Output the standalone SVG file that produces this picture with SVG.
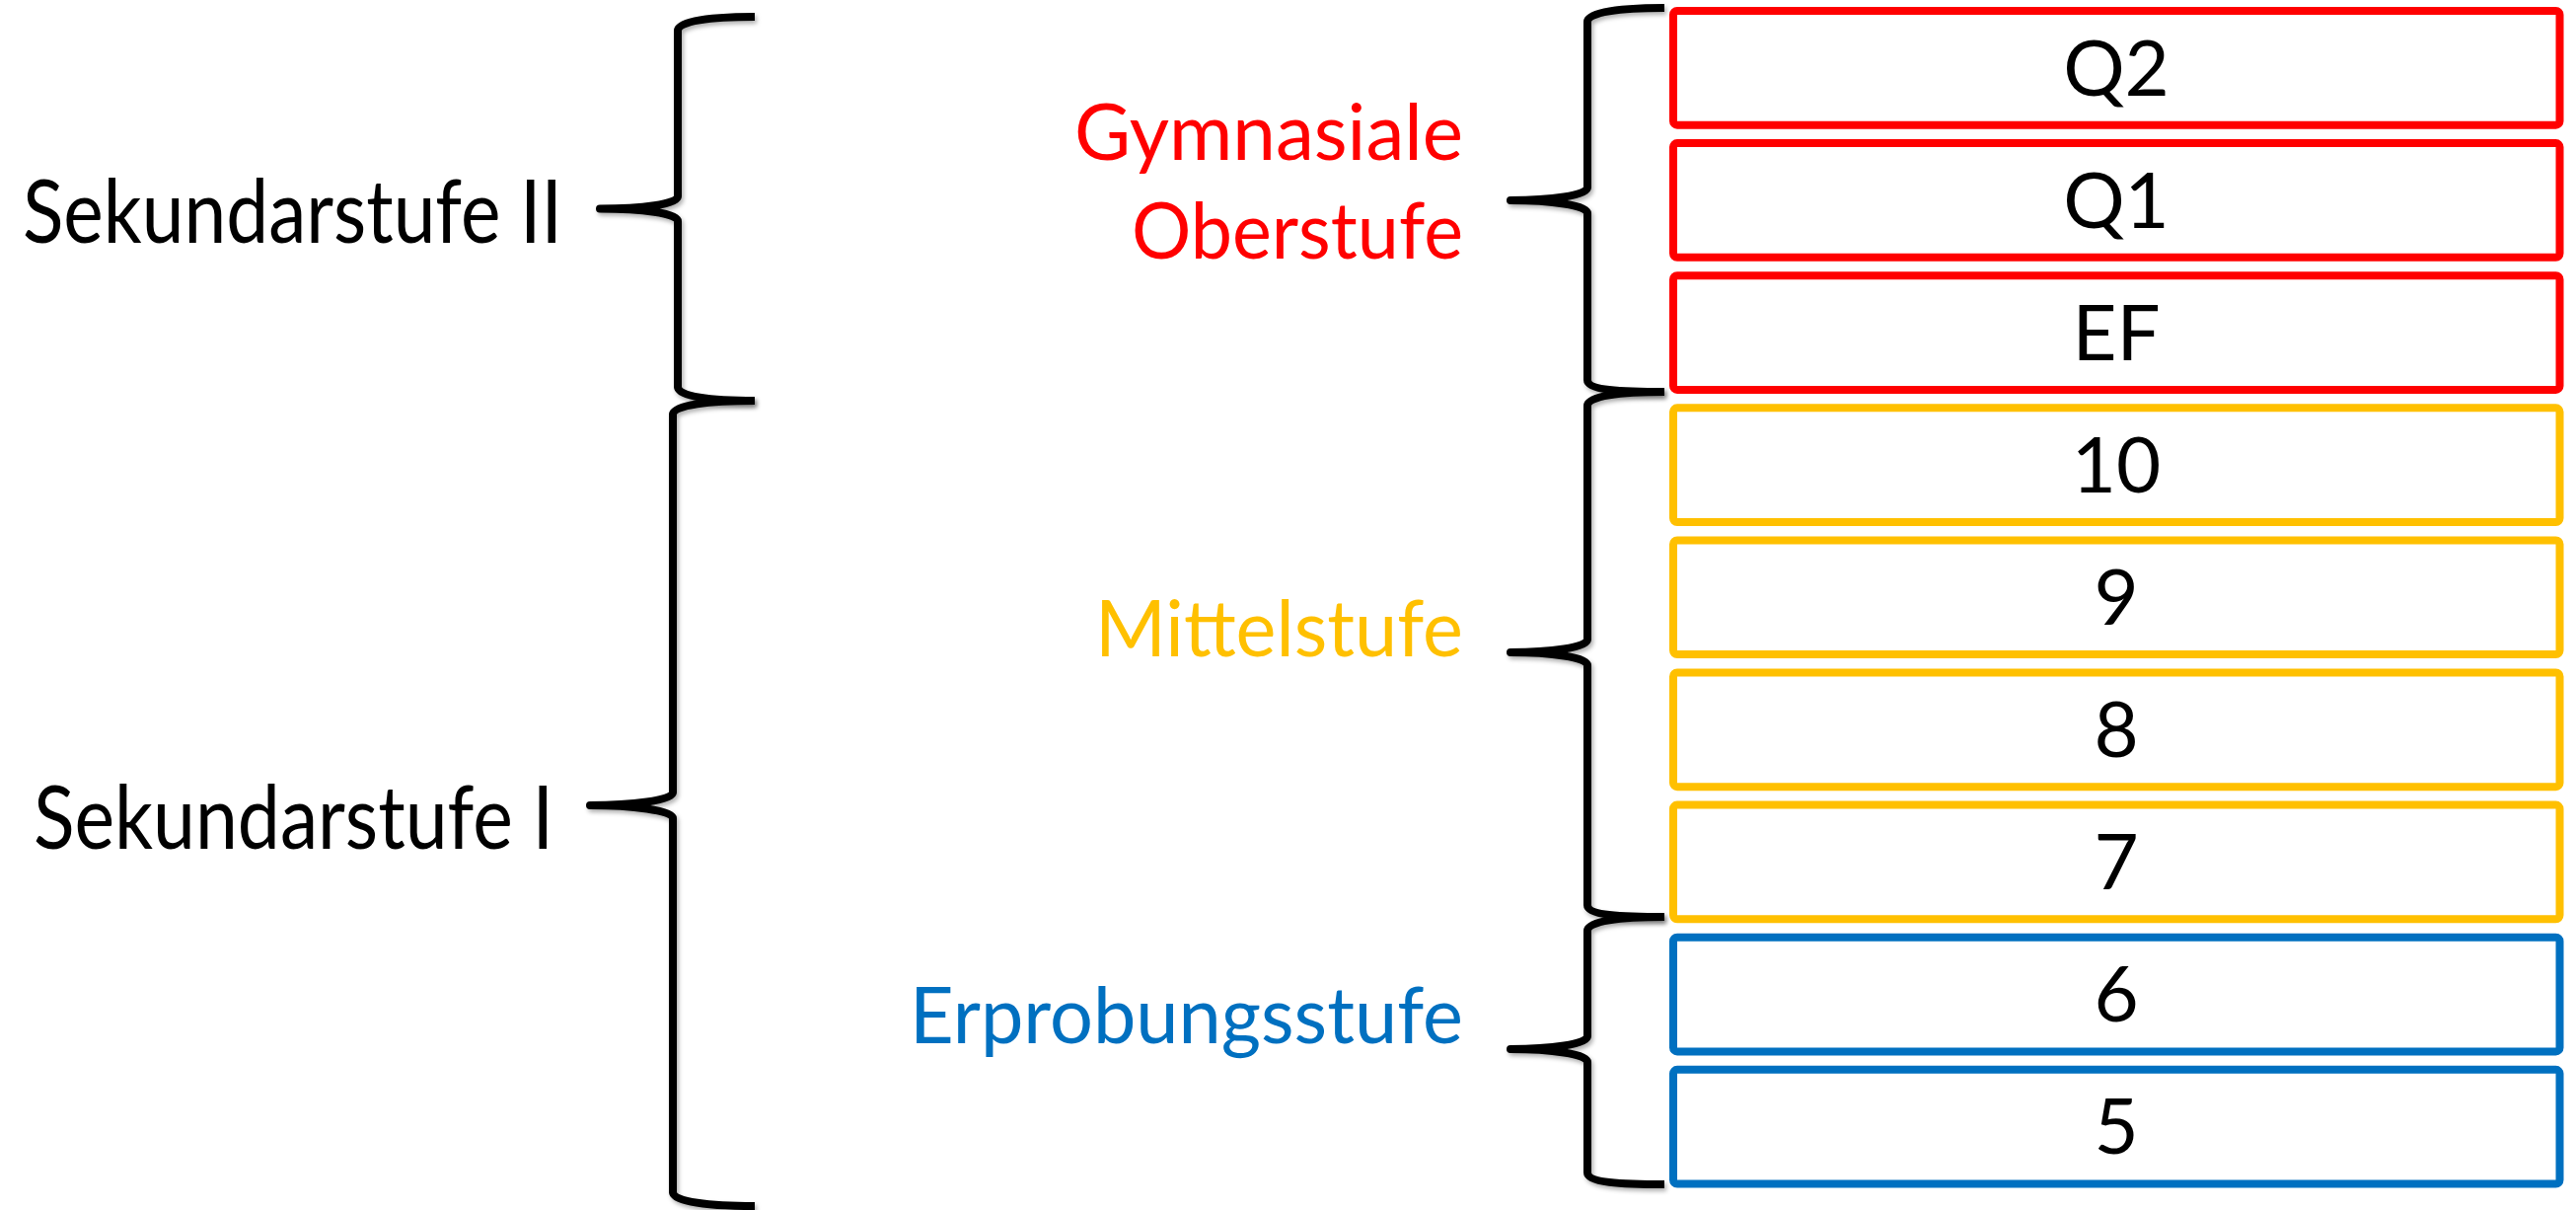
<svg xmlns="http://www.w3.org/2000/svg" width="2611" height="1226" viewBox="0 0 2611 1226">
<defs>
<filter id="sh" x="-20%" y="-5%" width="140%" height="110%">
<feDropShadow dx="2" dy="3" stdDeviation="2" flood-color="#000" flood-opacity="0.3"/>
</filter>
<style>
.box{fill:#fff;stroke-width:8}
.red{stroke:#FF0000}
.yel{stroke:#FFC000}
.blu{stroke:#0070C0}
.bl{font-family:Lato,"Open Sans",sans-serif;font-size:78px;fill:#000;text-anchor:middle}
.lab{font-family:Lato,"Open Sans",sans-serif;font-size:79px}
.big{font-family:Lato,"Open Sans",sans-serif;font-size:90px;fill:#000}
.brace{fill:none;stroke:#000;stroke-width:8;stroke-linejoin:round;stroke-linecap:butt;filter:url(#sh)}
</style>
</defs>
<rect width="2611" height="1226" fill="#fff"/>
<g id="connectors">
<path class="brace" d="M765,17 C720,17 687,21 687,31 L687,199 C687,207 650,211.5 608,211.5 C650,211.5 687,216 687,224 L687,392 C687,402 720,406 765,406"/>
<path class="brace" d="M765,406 C720,406 682,410 682,420 L682,803 C682,811 640,816 598,816 C640,816 682,821 682,829 L682,1208 C682,1218 720,1222 765,1222"/>
<path class="brace" d="M1687,8 C1642,8 1609,12 1609,22 L1609,190 C1609,198 1572,203 1531,203 C1572,203 1609,208 1609,216 L1609,385 C1609,395 1642,397 1687,397"/>
<path class="brace" d="M1687,397 C1642,397 1609,401 1609,411 L1609,648 C1609,656 1572,661 1531,661 C1572,661 1609,666 1609,674 L1609,917 C1609,927 1642,929 1687,929"/>
<path class="brace" d="M1687,929 C1642,929 1609,933 1609,943 L1609,1050 C1609,1058 1572,1063 1531,1063 C1572,1063 1609,1068 1609,1076 L1609,1188 C1609,1198 1642,1200 1687,1200"/>
</g>
<g id="label-sek2"><text class="big" x="23" y="246" textLength="547" lengthAdjust="spacingAndGlyphs">Sekundarstufe II</text></g>
<g id="label-sek1"><text class="big" x="34" y="860" textLength="527" lengthAdjust="spacingAndGlyphs">Sekundarstufe I</text></g>
<g id="label-oberstufe">
<text class="lab" fill="#FF0000" x="1089" y="162" textLength="394" lengthAdjust="spacingAndGlyphs">Gymnasiale</text>
<text class="lab" fill="#FF0000" x="1147" y="262" textLength="336" lengthAdjust="spacingAndGlyphs">Oberstufe</text>
</g>
<g id="label-mittelstufe"><text class="lab" fill="#FFC000" x="1110" y="665" textLength="373" lengthAdjust="spacingAndGlyphs">Mittelstufe</text></g>
<g id="label-erprobungsstufe"><text class="lab" fill="#0070C0" x="922" y="1057" textLength="561" lengthAdjust="spacingAndGlyphs">Erprobungsstufe</text></g>
<g id="box-q2"><rect class="box red" x="1696" y="11" width="898.5" height="115.7" rx="4"/><text class="bl" x="2145" y="97">Q2</text></g>
<g id="box-q1"><rect class="box red" x="1696" y="145.1" width="898.5" height="115.7" rx="4"/><text class="bl" x="2145" y="231">Q1</text></g>
<g id="box-ef"><rect class="box red" x="1696" y="279.2" width="898.5" height="115.7" rx="4"/><text class="bl" x="2145" y="365">EF</text></g>
<g id="box-10"><rect class="box yel" x="1696" y="413.3" width="898.5" height="115.7" rx="4"/><text class="bl" x="2145" y="499">10</text></g>
<g id="box-9"><rect class="box yel" x="1696" y="547.4" width="898.5" height="115.7" rx="4"/><text class="bl" x="2145" y="633">9</text></g>
<g id="box-8"><rect class="box yel" x="1696" y="681.5" width="898.5" height="115.7" rx="4"/><text class="bl" x="2145" y="767">8</text></g>
<g id="box-7"><rect class="box yel" x="1696" y="815.6" width="898.5" height="115.7" rx="4"/><text class="bl" x="2145" y="901">7</text></g>
<g id="box-6"><rect class="box blu" x="1696" y="949.7" width="898.5" height="115.7" rx="4"/><text class="bl" x="2145" y="1035">6</text></g>
<g id="box-5"><rect class="box blu" x="1696" y="1083.8" width="898.5" height="115.7" rx="4"/><text class="bl" x="2145" y="1169">5</text></g>
</svg>
